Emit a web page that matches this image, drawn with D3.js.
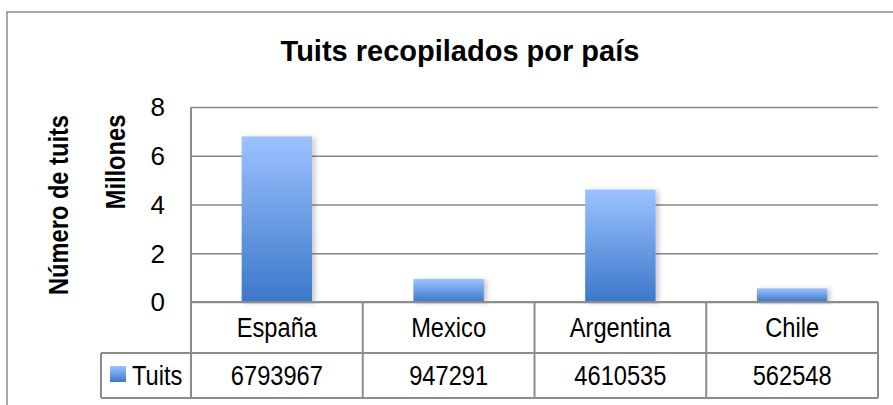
<!DOCTYPE html>
<html>
<head>
<meta charset="utf-8">
<script src="https://cdn.jsdelivr.net/npm/d3@7"></script>
<style>
  body { margin: 0; background: #fff; }
  text { font-family: "Liberation Sans", Arial, sans-serif; fill: #000; }
</style>
</head>
<body>
<svg width="893" height="405"></svg>
<script>
// data
const countries = ["España", "Mexico", "Argentina", "Chile"];
const tuits = [6793967, 947291, 4610535, 562548];
const yTicks = [0, 2, 4, 6, 8];
const seriesName = "Tuits";

const plot = { left: 191, right: 878, top: 107, bottom: 302 },
      rowH1 = 51, rowH2 = 45, legendLeft = 101;
// text in the original looks narrower than Arial
const squeeze = 0.845;

const svg = d3.select("svg");

// gradient + shadow for the bars
const defs = svg.append("defs");
const grad = defs.append("linearGradient")
    .attr("id", "barGrad")
    .attr("x1", 0).attr("y1", 0).attr("x2", 0).attr("y2", 1);
grad.append("stop").attr("offset", "0%").attr("stop-color", "#9cc2ff");
grad.append("stop").attr("offset", "100%").attr("stop-color", "#3b78c9");

const shadow = defs.append("filter")
    .attr("id", "shadow")
    .attr("x", "-20%").attr("y", "-20%").attr("width", "140%").attr("height", "140%");
shadow.append("feDropShadow")
    .attr("dx", 3).attr("dy", 1)
    .attr("stdDeviation", 2.5)
    .attr("flood-color", "#000")
    .attr("flood-opacity", 0.22);

// outer frame (runs off the right/bottom edge)
svg.append("rect")
    .attr("x", 7).attr("y", 12)
    .attr("width", 920).attr("height", 430)
    .attr("fill", "none")
    .attr("stroke", "#8a8a8a")
    .attr("stroke-width", 1.5);

// narrowed text helper
function label(g, x, y, str, size, anchor, rot) {
    return g.append("text")
        .attr("transform", `translate(${x},${y})${rot ? " rotate(-90)" : ""} scale(${squeeze},1)`)
        .attr("text-anchor", anchor || "middle")
        .attr("font-size", size + "px")
        .text(str);
}

// title
svg.append("text")
    .attr("x", 460).attr("y", 61)
    .attr("text-anchor", "middle")
    .attr("font-size", "29px")
    .attr("font-weight", "bold")
    .text("Tuits recopilados por país");

const x = d3.scaleBand()
    .domain(countries)
    .range([plot.left, plot.right]);

const y = d3.scaleLinear()
    .domain([0, 8000000])
    .range([plot.bottom, plot.top]);

// gridlines + tick labels
const yAxis = svg.append("g")
    .attr("transform", `translate(${plot.left},0)`)
    .call(d3.axisLeft(y)
        .tickValues(yTicks.map(v => v * 1e6))
        .tickFormat(d => d / 1e6)
        .tickSize(-(plot.right - plot.left))
        .tickPadding(26));
yAxis.select(".domain").remove();
yAxis.selectAll(".tick line")
    .attr("stroke", "#868686")
    .attr("stroke-width", 1.5);
yAxis.selectAll(".tick text")
    .attr("font-size", "26px")
    .attr("font-family", null)
    .attr("dy", "0.34em");

// axis titles
label(svg, 68, 205, "Número de tuits", 28, "middle", true).attr("font-weight", "bold");
label(svg, 125, 162, "Millones", 28, "middle", true).attr("font-weight", "bold");

// bars
const barW = x.bandwidth() * 0.41;
svg.append("g")
    .selectAll("rect")
    .data(countries)
    .join("rect")
    .attr("x", d => x(d) + (x.bandwidth() - barW) / 2)
    .attr("y", (d, i) => y(tuits[i]))
    .attr("width", barW)
    .attr("height", (d, i) => y(0) - y(tuits[i]))
    .attr("fill", "url(#barGrad)")
    .attr("filter", "url(#shadow)");

// data table under the plot
const table = svg.append("g")
    .attr("fill", "none")
    .attr("stroke", "#8c8c8c")
    .attr("stroke-width", 2);

const rowTop = plot.bottom, rowMid = plot.bottom + rowH1, rowBot = rowMid + rowH2;

// vertical axis line running through plot and table
table.append("line")
    .attr("x1", plot.left).attr("x2", plot.left)
    .attr("y1", plot.top).attr("y2", rowBot);

table.selectAll("line.col")
    .data(countries)
    .join("line")
    .attr("class", "col")
    .attr("x1", d => x(d) + x.bandwidth())
    .attr("x2", d => x(d) + x.bandwidth())
    .attr("y1", rowTop).attr("y2", rowBot);

table.append("line")
    .attr("x1", plot.left).attr("x2", plot.right)
    .attr("y1", rowTop).attr("y2", rowTop);
table.append("line")
    .attr("x1", legendLeft).attr("x2", plot.right)
    .attr("y1", rowMid).attr("y2", rowMid);
table.append("line")
    .attr("x1", legendLeft).attr("x2", plot.right)
    .attr("y1", rowBot).attr("y2", rowBot);
table.append("line")
    .attr("x1", legendLeft).attr("x2", legendLeft)
    .attr("y1", rowMid).attr("y2", rowBot);

// category labels and values
const cells = svg.append("g");
countries.forEach((c, i) => {
    const cx = x(c) + x.bandwidth() / 2;
    label(cells, cx, 337, c, 28);
    label(cells, cx, 385, tuits[i], 28);
});

// legend key
svg.append("rect")
    .attr("x", 110).attr("y", 366)
    .attr("width", 16).attr("height", 16)
    .attr("fill", "url(#barGrad)");
label(svg, 132, 385, seriesName, 28, "start");
</script>
</body>
</html>
